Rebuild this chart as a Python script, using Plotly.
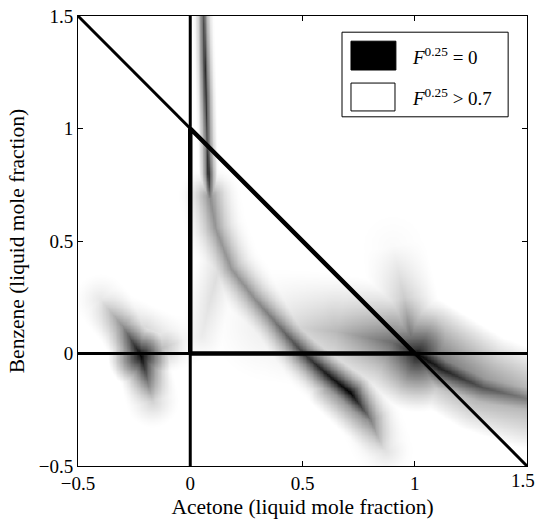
import numpy as np
import plotly.graph_objects as go

# ---- data (valley curves of F^0.25 / 0.7, 0 = black) ----
valley_a_x = [0.057, 0.063, 0.068, 0.074, 0.080, 0.086]
valley_a_y = [1.50, 1.30, 1.15, 0.95, 0.80, 0.70]
valley_a_v = [0.32, 0.18, 0.16, 0.28, 0.10, 0.45]

valley_b_x = [0.086, 0.11, 0.18, 0.28, 0.37, 0.43, 0.505, 0.60, 0.714, 0.80, 0.86]
valley_b_y = [0.70, 0.56, 0.38, 0.25, 0.15, 0.08, 0.00, -0.085, -0.175, -0.29, -0.43]
valley_b_v = [0.55, 0.58, 0.58, 0.55, 0.47, 0.37, 0.24, 0.10, 0.00, 0.48, 0.88]

wedge_x = [0.62, 0.78, 0.87]
wedge_y = [-0.15, -0.30, -0.43]
wedge_v = [0.55, 0.60, 0.88]

upper_p_x = [0.35, 0.65, 0.90, 1.01]
upper_p_y = [0.13, 0.10, 0.05, 0.00]
upper_p_v = [0.92, 0.72, 0.42, 0.10]

ridge_c_x = [0.90, 0.95, 0.98]
ridge_c_y = [0.48, 0.25, 0.08]
ridge_c_v = [0.98, 0.80, 0.45]

band_c_x = [0.92, 1.01, 1.12, 1.30, 1.50]
band_c_y = [0.04, 0.00, -0.07, -0.15, -0.20]
band_c_v = [0.45, 0.00, 0.12, 0.32, 0.48]

band_h_x = [0.92, 1.05, 1.30, 1.50]
band_h_y = [0.10, 0.02, -0.13, -0.20]
band_h_v = [0.85, 0.45, 0.55, 0.65]

left_d_x = [-0.40, -0.30, -0.22, -0.17]
left_d_y = [0.24, 0.12, -0.01, -0.21]
left_d_v = [0.90, 0.55, 0.00, 0.82]

left_core_x = [-0.22]
left_core_y = [-0.01]
left_core_v = [0.05]

left_e_x = [-0.22, -0.12, -0.03]
left_e_y = [-0.01, 0.03, 0.06]
left_e_v = [0.40, 0.75, 0.95]

left_g_x = [-0.36, -0.20, -0.05]
left_g_y = [0.20, 0.12, 0.06]
left_g_v = [0.92, 0.85, 0.95]

near_f_x = [0.05, 0.09, 0.13]
near_f_y = [0.08, 0.25, 0.40]
near_f_v = [0.92, 0.88, 0.86]

# composition boundary lines
full_line_x = [[0, 0], [-0.5, 1.5], [-0.5, 1.5]]
full_line_y = [[-0.5, 1.5], [0, 0], [1.5, -0.5]]
tri_x = [0, 1, 0, 0]
tri_y = [0, 0, 1, 0]

tick_vals = [-0.5, 0, 0.5, 1, 1.5]
tick_text = ["\u22120.5", "0", "0.5", "1", "1.5"]
x_tick_text = ["\u22120.5", "0", "0.5", "1", ""]
last_x_tick = "1.5"

# ---- styles: (half width in data units, profile exponent) ----
features = [
    (valley_a_x, valley_a_y, valley_a_v, 0.05, 2.0),
    (valley_b_x, valley_b_y, valley_b_v, 0.15, 2.2),
    (wedge_x, wedge_y, wedge_v, 0.11, 1.3),
    (upper_p_x, upper_p_y, upper_p_v, 0.26, 1.3),
    (ridge_c_x, ridge_c_y, ridge_c_v, 0.15, 1.2),
    (band_c_x, band_c_y, band_c_v, 0.15, 1.6),
    (band_h_x, band_h_y, band_h_v, 0.22, 1.0),
    (left_d_x, left_d_y, left_d_v, 0.12, 1.4),
    (left_core_x, left_core_y, left_core_v, 0.15, 1.2),
    (left_e_x, left_e_y, left_e_v, 0.12, 1.3),
    (left_g_x, left_g_y, left_g_v, 0.10, 1.3),
    (near_f_x, near_f_y, near_f_v, 0.11, 1.3),
]

N = 320
gx = np.linspace(-0.5, 1.5, N)
gy = np.linspace(-0.5, 1.5, N)
X, Y = np.meshgrid(gx, gy)


def profile(d, v, w, q):
    s = np.clip(d / w, 0, 1)
    return v + (1 - v) * (1 - (1 - s) ** q)


def feature_field(xs, ys, vs, w, q):
    if len(xs) == 1:
        return profile(np.hypot(X - xs[0], Y - ys[0]), vs[0], w, q)
    best = np.ones_like(X)
    for i in range(len(xs) - 1):
        ax, ay, bx, by = xs[i], ys[i], xs[i + 1], ys[i + 1]
        dx, dy = bx - ax, by - ay
        L2 = dx * dx + dy * dy
        t = np.clip(((X - ax) * dx + (Y - ay) * dy) / L2, 0, 1)
        d = np.hypot(X - (ax + t * dx), Y - (ay + t * dy))
        v = vs[i] + t * (vs[i + 1] - vs[i])
        best = np.minimum(best, profile(d, v, w, q))
    return best


Z = np.ones_like(X)
for xs, ys, vs, w, q in features:
    Z = np.minimum(Z, feature_field(xs, ys, vs, w, q))

fig = go.Figure()
fig.add_trace(go.Heatmap(
    x=gx, y=gy, z=Z, zmin=0, zmax=1, zsmooth="best",
    colorscale=[[0, "#000000"], [1, "#ffffff"]], showscale=False, hoverinfo="skip"))

for lx, ly in zip(full_line_x, full_line_y):
    fig.add_trace(go.Scatter(x=lx, y=ly, mode="lines",
                             line=dict(color="black", width=3), showlegend=False, hoverinfo="skip"))
fig.add_trace(go.Scatter(x=tri_x, y=tri_y, mode="lines",
                         line=dict(color="black", width=4.5), showlegend=False, hoverinfo="skip"))

font_family = "Liberation Serif"
axis_common = dict(range=[-0.5, 1.5], tickvals=tick_vals,
                   ticks="inside", ticklen=5, tickcolor="black", showline=True,
                   linecolor="black", linewidth=1, mirror="ticks", showgrid=False,
                   zeroline=False, automargin=False,
                   tickfont=dict(family=font_family, size=19, color="black"))

fig.update_layout(
    width=537, height=525,
    margin=dict(l=78, r=10, t=16, b=59, autoexpand=False),
    paper_bgcolor="white", plot_bgcolor="white",
    font=dict(family=font_family, color="black"),
    xaxis=dict(**axis_common, ticktext=x_tick_text,
               title=dict(text="Acetone (liquid mole fraction)",
                          font=dict(family=font_family, size=21.5, color="black"), standoff=6)),
    yaxis=dict(**axis_common, ticktext=tick_text,
               title=dict(text="Benzene (liquid mole fraction)",
                          font=dict(family=font_family, size=21.5, color="black"), standoff=8)),
    showlegend=False,
)

# last x tick label sits flush with the right edge of the page
fig.add_annotation(xref="paper", yref="paper", x=1.0223, y=0, xanchor="right", yanchor="top",
                   yshift=-2, text=last_x_tick, showarrow=False,
                   font=dict(family=font_family, size=19, color="black"))

# legend box (paper coordinates)
fig.add_shape(type="rect", xref="paper", yref="paper", x0=0.588, x1=0.958, y0=0.776, y1=0.964,
              line=dict(color="black", width=1), fillcolor="white")
fig.add_shape(type="rect", xref="paper", yref="paper", x0=0.608, x1=0.708, y0=0.880, y1=0.944,
              line=dict(color="black", width=1), fillcolor="black")
fig.add_shape(type="rect", xref="paper", yref="paper", x0=0.608, x1=0.706, y0=0.789, y1=0.851,
              line=dict(color="black", width=1), fillcolor="white")
fig.add_annotation(xref="paper", yref="paper", x=0.740, y=0.912, xanchor="left", yanchor="middle",
                   text="<i>F</i><sup>0.25</sup> = 0", showarrow=False,
                   font=dict(family=font_family, size=19, color="black"))
fig.add_annotation(xref="paper", yref="paper", x=0.740, y=0.820, xanchor="left", yanchor="middle",
                   text="<i>F</i><sup>0.25</sup> > 0.7", showarrow=False,
                   font=dict(family=font_family, size=19, color="black"))

fig.write_html("out.html")
